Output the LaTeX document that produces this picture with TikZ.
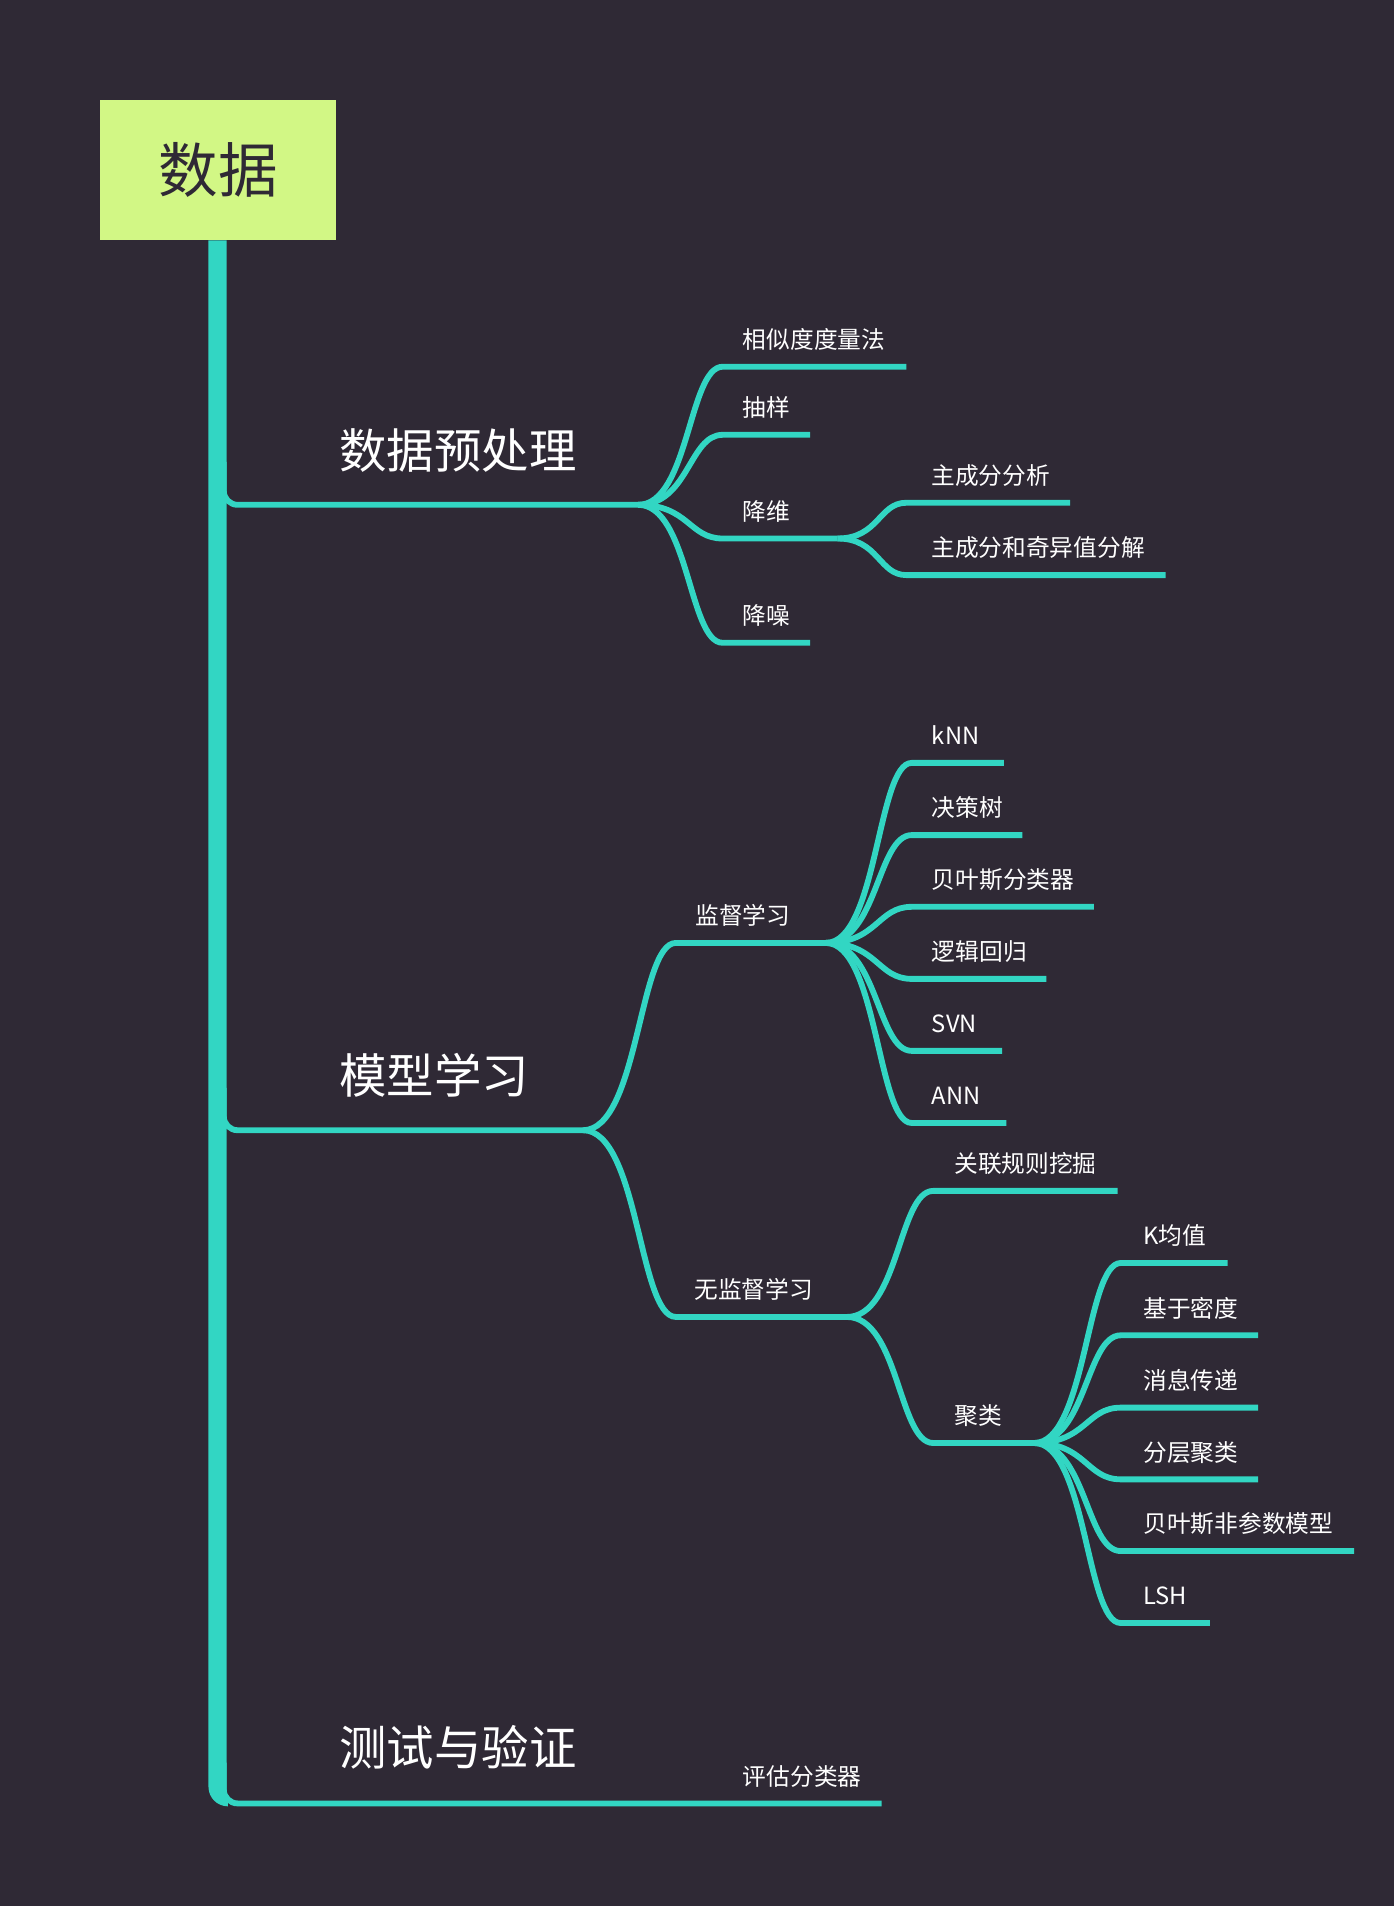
\documentclass[tikz,border=0pt]{standalone}
\usepackage{fontspec}
\setmainfont{Noto Sans CJK SC}
\usetikzlibrary{calc}
\definecolor{mmbg}{RGB}{47,41,53}
\definecolor{mmline}{RGB}{50,214,195}
\definecolor{mmroot}{RGB}{210,247,133}
\newcommand{\mmlink}[3]{\draw[conn] (#1) .. controls ($(#1)!0.6!(#1-|#2)$) and ($(#2)!0.4!(#2-|#1)$) .. (#2) -- (#3);}
\tikzset{
  conn/.style={draw=mmline, line width=4.8pt, line cap=butt},
  trunkjoin/.style={draw=mmline, line width=4.8pt, line cap=butt, rounded corners=11.4pt},
  rootbox/.style={fill=mmroot, minimum width=194.2pt, minimum height=115.2pt, inner sep=0pt,
    font=\fontsize{49}{49}\selectfont, text=mmbg},
  lone/.style={font=\fontsize{39}{39}\selectfont, text=white, inner sep=0pt, anchor=base west},
  ltwo/.style={font=\fontsize{19.5}{19.5}\selectfont, text=white, inner sep=0pt, anchor=base west},
}
\begin{document}
\begin{tikzpicture}[x=1pt,y=-1pt]
\path[use as bounding box, fill=mmbg] (0,0) rectangle (1147,1568);

% root
\node[rootbox] (root) at (179.4,139.9) {数据};

% trunk
\fill[mmline] ($(root.south)+(7.1,0)$) -- ($(root.south)+(-7.9,0)$) -- (171.5,1470)
  .. controls (171.5,1478.8) and (178.7,1486) .. (187.5,1486) -- (187.5,1481.2) -- (186.5,1481.2) -- cycle;

% level 1 coordinates
\coordinate (sPre) at (184.1,380);   \coordinate (cPre) at (184.1,415.3);  \coordinate (ePre) at (525,415.3);
\coordinate (sMod) at (184.1,895);   \coordinate (cMod) at (184.1,929.8);  \coordinate (eMod) at (479.6,929.8);
\coordinate (sTst) at (184.1,1450);  \coordinate (cTst) at (184.1,1483.6); \coordinate (eTst) at (520,1483.6);

\draw[trunkjoin] (sPre) -- (cPre) -- (ePre);
\draw[trunkjoin] (sMod) -- (cMod) -- (eMod);

\node[lone] (tPre) at (279,385.3) {数据预处理};
\node[lone] (tMod) at (279,899.5) {模型学习};
\node[lone] (tTst) at (279,1452) {测试与验证};

% level 2+ coordinates
\coordinate (sSim) at (594.5,301.7);  \coordinate (eSim) at (745.6,301.7);
\coordinate (sSam) at (594.5,357.7);  \coordinate (eSam) at (666.5,357.7);
\coordinate (sDim) at (594.5,443);    \coordinate (eDim) at (689,443);
\coordinate (sNoi) at (594.5,528.8);  \coordinate (eNoi) at (666.5,528.8);
\coordinate (sPca) at (745.6,413.6);  \coordinate (ePca) at (880.4,413.6);
\coordinate (sSvd) at (745.6,473.1);  \coordinate (eSvd) at (959,473.1);

\coordinate (sSup) at (556,775.7);    \coordinate (eSup) at (679.4,775.7);
\coordinate (sUns) at (556,1083.4);   \coordinate (eUns) at (696.7,1083.4);

\coordinate (sKnn) at (750,627.6);    \coordinate (eKnn) at (825.8,627.6);
\coordinate (sDtr) at (750,687);      \coordinate (eDtr) at (841,687);
\coordinate (sBay) at (750,746);      \coordinate (eBay) at (899.8,746);
\coordinate (sLog) at (750,805.3);    \coordinate (eLog) at (860.8,805.3);
\coordinate (sSvn) at (750,864.5);    \coordinate (eSvn) at (824.3,864.5);
\coordinate (sAnn) at (750,923.8);    \coordinate (eAnn) at (827.8,923.8);

\coordinate (sAss) at (767.7,979.7);  \coordinate (eAss) at (919.4,979.7);
\coordinate (sClu) at (767.7,1187.1); \coordinate (eClu) at (850.8,1187.1);

\coordinate (sKme) at (922,1039);     \coordinate (eKme) at (1010,1039);
\coordinate (sDen) at (922,1098.5);   \coordinate (eDen) at (1035,1098.5);
\coordinate (sMsg) at (922,1158);     \coordinate (eMsg) at (1035,1158);
\coordinate (sHie) at (922,1217);     \coordinate (eHie) at (1035,1217);
\coordinate (sBnp) at (922,1276);     \coordinate (eBnp) at (1114,1276);
\coordinate (sLsh) at (922,1335.2);   \coordinate (eLsh) at (995.4,1335.2);

\coordinate (sEva) at (594.5,1483.6); \coordinate (eEva) at (725.3,1483.6);

% connectors
\mmlink{ePre}{sSim}{eSim}
\mmlink{ePre}{sSam}{eSam}
\mmlink{ePre}{sDim}{eDim}
\mmlink{ePre}{sNoi}{eNoi}
\mmlink{eDim}{sPca}{ePca}
\mmlink{eDim}{sSvd}{eSvd}

\mmlink{eMod}{sSup}{eSup}
\mmlink{eMod}{sUns}{eUns}
\mmlink{eSup}{sKnn}{eKnn}
\mmlink{eSup}{sDtr}{eDtr}
\mmlink{eSup}{sBay}{eBay}
\mmlink{eSup}{sLog}{eLog}
\mmlink{eSup}{sSvn}{eSvn}
\mmlink{eSup}{sAnn}{eAnn}
\mmlink{eUns}{sAss}{eAss}
\mmlink{eUns}{sClu}{eClu}
\mmlink{eClu}{sKme}{eKme}
\mmlink{eClu}{sDen}{eDen}
\mmlink{eClu}{sMsg}{eMsg}
\mmlink{eClu}{sHie}{eHie}
\mmlink{eClu}{sBnp}{eBnp}
\mmlink{eClu}{sLsh}{eLsh}

\draw[trunkjoin] (sTst) -- (cTst) -- (eTst) -- (sEva) -- (eEva);

% labels
\node[ltwo] (tSim) at (611,286.7) {相似度度量法};
\node[ltwo] (tSam) at (611,342.7) {抽样};
\node[ltwo] (tDim) at (611,428) {降维};
\node[ltwo] (tNoi) at (611,513.8) {降噪};
\node[ltwo] (tPca) at (766,398.6) {主成分分析};
\node[ltwo] (tSvd) at (766,458.1) {主成分和奇异值分解};

\node[ltwo] (tSup) at (572,760.7) {监督学习};
\node[ltwo] (tUns) at (571,1068.4) {无监督学习};

\node[ltwo] (tKnn) at (766.5,612.6) {kNN};
\node[ltwo] (tDtr) at (766.5,672) {决策树};
\node[ltwo] (tBay) at (766.5,731) {贝叶斯分类器};
\node[ltwo] (tLog) at (766.5,790.3) {逻辑回归};
\node[ltwo] (tSvn) at (766.5,849.5) {SVN};
\node[ltwo] (tAnn) at (766.5,908.8) {ANN};

\node[ltwo] (tAss) at (785,964.7) {关联规则挖掘};
\node[ltwo] (tClu) at (785,1172.1) {聚类};

\node[ltwo] (tKme) at (940.5,1024) {K均值};
\node[ltwo] (tDen) at (940.5,1083.5) {基于密度};
\node[ltwo] (tMsg) at (940.5,1143) {消息传递};
\node[ltwo] (tHie) at (940.5,1202) {分层聚类};
\node[ltwo] (tBnp) at (940.5,1261) {贝叶斯非参数模型};
\node[ltwo] (tLsh) at (940.5,1320.2) {LSH};

\node[ltwo] (tEva) at (611,1468.6) {评估分类器};
\end{tikzpicture}
\end{document}
